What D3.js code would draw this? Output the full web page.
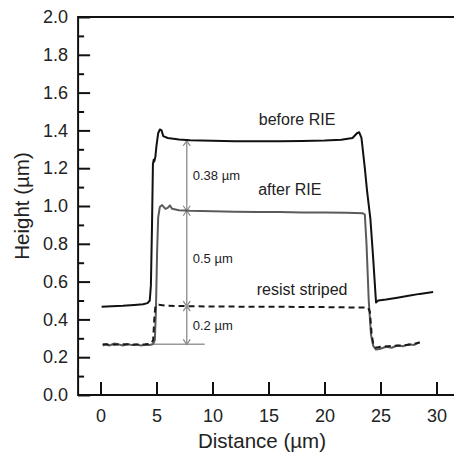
<!DOCTYPE html>
<html><head><meta charset="utf-8">
<script src="https://cdn.jsdelivr.net/npm/d3@7/dist/d3.min.js"></script>
<style>
html,body{margin:0;padding:0;background:#fff;}
svg{display:block;font-family:"Liberation Sans",Arial,Helvetica,sans-serif;}
</style></head>
<body>
<svg id="chart" width="454" height="454"></svg>
<script>
// ---- data ----
const beforeX = [0.1,1.0,2.0,3.0,3.8,4.2,4.4,4.5,4.6,4.68,4.75,4.8,4.9,5.0,5.15,5.3,5.45,5.6,6.0,7,8,10,12,14,16,18,20,21.5,22.5,22.9,23.1,23.3,23.6,23.8,24.1,24.35,24.6,24.8,25.5,26.5,27.5,28.5,29.7];
const beforeY = [0.467,0.47,0.472,0.476,0.48,0.486,0.50,0.58,0.90,1.22,1.245,1.235,1.26,1.32,1.385,1.405,1.40,1.37,1.36,1.352,1.348,1.345,1.343,1.342,1.343,1.344,1.346,1.35,1.36,1.385,1.39,1.36,1.2,1.08,0.93,0.72,0.49,0.50,0.505,0.515,0.525,0.535,0.545];

const afterX = [0.2,0.5,0.8,1.2,1.6,2.0,2.4,2.8,3.2,3.6,4.0,4.4,4.7,4.85,4.95,5.05,5.15,5.3,5.5,5.8,6.0,6.2,6.4,7,8,10,12,14,16,18,20,22,23.4,23.6,23.75,23.95,24.15,24.35,24.6,25,25.5,26,26.5,27,27.5,28,28.5];
const afterY = [0.262,0.27,0.262,0.272,0.268,0.262,0.27,0.264,0.268,0.262,0.266,0.265,0.27,0.29,0.45,0.75,0.94,0.995,1.005,0.985,0.99,1.003,0.985,0.978,0.975,0.972,0.97,0.968,0.968,0.966,0.965,0.964,0.962,0.955,0.80,0.5,0.32,0.26,0.24,0.245,0.255,0.25,0.262,0.258,0.268,0.265,0.28];

const resistX = [0.2,1,2,3,4,4.5,4.7,4.8,4.9,5.2,6,8,10,15,20,23,23.9,24.05,24.2,24.35,24.6,25,26,27,28,28.5];
const resistY = [0.268,0.265,0.268,0.266,0.268,0.272,0.29,0.40,0.47,0.478,0.472,0.47,0.468,0.467,0.465,0.463,0.462,0.44,0.33,0.27,0.25,0.255,0.26,0.262,0.27,0.278];

// annotation: measurement arrows at x = 7.7
const arrowX = 7.7;
const arrowLevels = [1.345, 0.975, 0.47, 0.268];
const arrowLabels = ["0.38 \u00b5m", "0.5 \u00b5m", "0.2 \u00b5m"];
const refLineX = [4.7, 9.3];
const refLineY = 0.268;

const curveLabels = ["before RIE", "after RIE", "resist striped"];
const curveLabelX = [17.55, 16.9, 18.0];
const curveLabelY = [1.43, 1.06, 0.53];

const xTicks = [0,5,10,15,20,25,30];
const yTicks = [0.0,0.2,0.4,0.6,0.8,1.0,1.2,1.4,1.6,1.8,2.0];
const yMinor = [0.1,0.3,0.5,0.7,0.9,1.1,1.3,1.5,1.7,1.9];

// ---- drawing ----
const svg = d3.select("#chart");
const x = d3.scaleLinear().domain([0,30]).range([100.5,436.5]);
const y = d3.scaleLinear().domain([0,2]).range([395,17]);
const left = x(-2), right = 454;

// frame (left, top, bottom)
svg.append("path")
  .attr("d", `M${right},${y(2)}H${left}V${y(0)}H${right}`)
  .attr("fill","none").attr("stroke","#111").attr("stroke-width",2);

// y axis
const yAx = svg.append("g").attr("transform",`translate(${left},0)`)
  .call(d3.axisLeft(y).tickValues(yTicks).tickFormat(d3.format(".1f")).tickSizeInner(-12).tickSizeOuter(0).tickPadding(10));
yAx.select(".domain").remove();
yAx.selectAll("line").attr("stroke","#111").attr("stroke-width",2);
yAx.selectAll("text").attr("font-size",18).attr("fill","#222").attr("font-family",null);
svg.append("g").attr("transform",`translate(${left},0)`)
  .call(d3.axisLeft(y).tickValues(yMinor).tickFormat("").tickSizeInner(-6).tickSizeOuter(0))
  .call(g=>g.select(".domain").remove())
  .selectAll("line").attr("stroke","#111").attr("stroke-width",2);

// x axis
const xAx = svg.append("g").attr("transform",`translate(0,${y(0)})`)
  .call(d3.axisBottom(x).tickValues(xTicks).tickFormat(d3.format("d")).tickSizeInner(-13).tickSizeOuter(0).tickPadding(14));
xAx.select(".domain").remove();
xAx.selectAll("line").attr("stroke","#111").attr("stroke-width",2);
xAx.selectAll("text").attr("font-size",18).attr("fill","#222").attr("font-family",null);

// axis titles
svg.append("text").attr("x",262).attr("y",448).attr("text-anchor","middle")
  .attr("font-size",20.5).attr("fill","#222").text("Distance (\u00b5m)");
svg.append("text").attr("transform","translate(29,206) rotate(-90)").attr("text-anchor","middle")
  .attr("font-size",20.5).attr("fill","#222").text("Height (\u00b5m)");

const line = d3.line().x(d=>x(d[0])).y(d=>y(d[1]));
const zip = (a,b)=>a.map((v,i)=>[v,b[i]]);

// reference line
svg.append("line").attr("x1",x(refLineX[0])).attr("x2",x(refLineX[1]))
  .attr("y1",y(refLineY)).attr("y2",y(refLineY)).attr("stroke","#999").attr("stroke-width",1.5);

// arrows
const defs = svg.append("defs");
defs.append("marker").attr("id","chev").attr("viewBox","-6 -6 12 12").attr("markerWidth",12).attr("markerHeight",12)
  .attr("markerUnits","userSpaceOnUse").attr("orient","auto-start-reverse").attr("refX",0).attr("refY",0)
  .append("path").attr("d","M-5,-3.5L0,0L-5,3.5").attr("fill","none").attr("stroke","#888").attr("stroke-width",1.2);
for (let i=0;i<arrowLevels.length-1;i++){
  svg.append("line").attr("x1",x(arrowX)).attr("x2",x(arrowX))
    .attr("y1",y(arrowLevels[i])).attr("y2",y(arrowLevels[i+1]))
    .attr("stroke","#999").attr("stroke-width",1.5)
    .attr("marker-start","url(#chev)").attr("marker-end","url(#chev)");
  const mid = (arrowLevels[i]+arrowLevels[i+1])/2;
  svg.append("text").attr("x",x(arrowX)+6).attr("y",y(mid)+4.5)
    .attr("font-size",13).attr("fill","#222").text(arrowLabels[i]);
}

// curves
svg.append("path").datum(zip(beforeX,beforeY)).attr("d",line)
  .attr("fill","none").attr("stroke","#111").attr("stroke-width",2).attr("stroke-linejoin","round");
svg.append("path").datum(zip(afterX,afterY)).attr("d",line)
  .attr("fill","none").attr("stroke","#5a5a5a").attr("stroke-width",2).attr("stroke-linejoin","round");
svg.append("path").datum(zip(resistX,resistY)).attr("d",line)
  .attr("fill","none").attr("stroke","#1a1a1a").attr("stroke-width",2).attr("stroke-dasharray","6,4");

// curve labels
curveLabels.forEach((t,i)=>{
  svg.append("text").attr("x",x(curveLabelX[i])).attr("y",y(curveLabelY[i]))
    .attr("text-anchor","middle").attr("font-size",16).attr("fill","#222").text(t);
});
</script>
</body></html>
